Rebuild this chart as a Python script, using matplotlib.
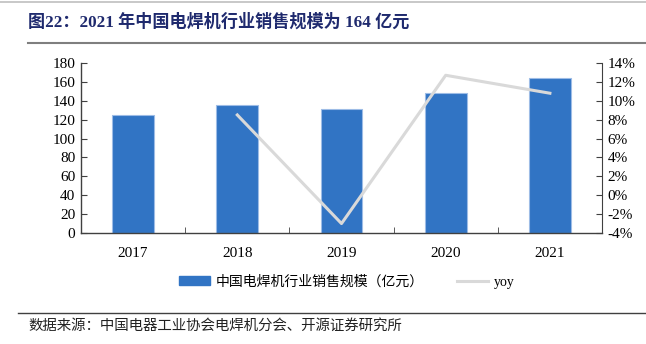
import matplotlib
matplotlib.use("Agg")
import matplotlib.pyplot as plt
from matplotlib.lines import Line2D
from matplotlib.patches import Patch
from matplotlib.ticker import FuncFormatter

years = ["2017", "2018", "2019", "2020", "2021"]
sales = [124.7, 135.2, 131.3, 148.0, 164.0]
yoy_years = ["2018", "2019", "2020", "2021"]
yoy = [8.5, -3.0, 12.7, 10.8]

title = "图22：2021 年中国电焊机行业销售规模为 164 亿元"
bar_label = "中国电焊机行业销售规模（亿元）"
line_label = "yoy"
source = "数据来源：中国电器工业协会电焊机分会、开源证券研究所"

CJK = ["Noto Sans CJK SC", "DejaVu Sans"]
SERIF = ["Liberation Serif", "Noto Sans CJK SC"]
MIX = ["Liberation Serif", "Noto Sans CJK SC"]

fig = plt.figure(figsize=(6.46, 3.44), dpi=100)
ax = fig.add_axes([81/646, 1-233/344, (602-81)/646, (233-63)/344])
x = list(range(len(years)))
ax.bar(x, sales, width=0.4, color="#3174C4", edgecolor="#9DBCE6", linewidth=0.8, zorder=2)
ax.set_xlim(-0.5, len(years)-0.5)
ax.set_ylim(0, 180)
ax.set_yticks(range(0, 181, 20))
ax.set_xticks(x)
ax.set_xticklabels(years)
ax.set_xticks([i + 0.5 for i in x[:-1]], minor=True)
ax.tick_params(axis="x", which="major", length=0, pad=10, labelsize=11)
ax.tick_params(axis="x", which="minor", length=4, direction="in", color="#404040")
ax.tick_params(axis="y", length=4, direction="in", labelsize=11, pad=4, color="#404040")
for lab in ax.get_xticklabels() + ax.get_yticklabels():
    lab.set_fontfamily(SERIF)
for s in ["top", "right"]:
    ax.spines[s].set_visible(False)
for s in ["left", "bottom"]:
    ax.spines[s].set_color("#404040")
    ax.spines[s].set_linewidth(1.0)

ax2 = ax.twinx()
xi = [years.index(y) for y in yoy_years]
ax2.plot(xi, yoy, color="#D9D9D9", linewidth=2.2, zorder=3)
ax2.set_ylim(-4, 14)
ax2.set_yticks(range(-4, 15, 2))
ax2.yaxis.set_major_formatter(FuncFormatter(lambda v, p: f"{int(v)}%"))
ax2.tick_params(axis="y", length=4, direction="in", labelsize=11, pad=4, color="#404040")
for lab in ax2.get_yticklabels():
    lab.set_fontfamily(SERIF)
for s in ["top", "left", "bottom"]:
    ax2.spines[s].set_visible(False)
ax2.spines["right"].set_color("#404040")

handles = [Patch(facecolor="#3174C4", edgecolor="#3174C4"),
           Line2D([0], [0], color="#D9D9D9", linewidth=2.2)]
leg = fig.legend(handles, [bar_label, line_label], loc="center", bbox_to_anchor=(347/646, 1-282/344),
                 ncol=2, frameon=False, prop={"family": MIX, "size": 10}, columnspacing=2.4,
                 handlelength=2.2, handleheight=0.6, handletextpad=0.45)

# decorative lines
fig.add_artist(Line2D([0, 1], [1-2/344, 1-2/344], color="#BFBFBF", linewidth=1.2))
fig.add_artist(Line2D([28/646, 1], [1-43/344, 1-43/344], color="#7F7F7F", linewidth=1.5))
fig.add_artist(Line2D([18/646, 1], [1-313/344, 1-313/344], color="#404040", linewidth=1.0))

fig.text(28/646, 1-22/344, title, fontsize=12.3, fontweight="bold", color="#1F2A6E",
         family=["Liberation Serif", "Noto Sans CJK SC"], va="center", ha="left")
fig.text(28/646, 1-326/344, source, fontsize=10.4, color="#222222", family=CJK, va="center", ha="left")

fig.savefig("out.png", dpi=100)
